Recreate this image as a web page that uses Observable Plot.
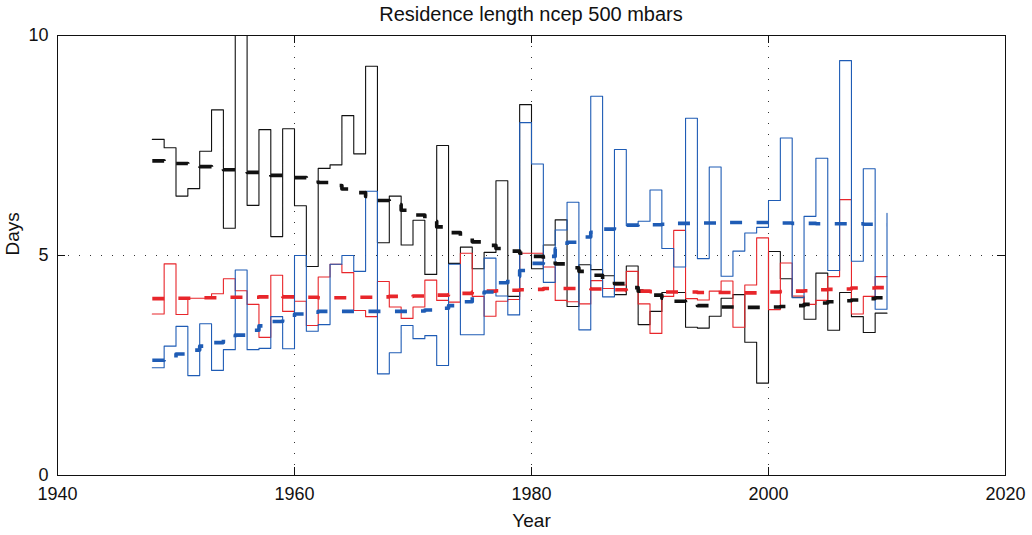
<!DOCTYPE html>
<html>
<head>
<meta charset="utf-8">
<script src="https://cdn.jsdelivr.net/npm/d3@7"></script>
<script src="https://cdn.jsdelivr.net/npm/@observablehq/plot@0.6"></script>
<style>
  html, body { margin: 0; padding: 0; background: #fff; }
  #wrap { position: relative; width: 1032px; height: 535px; }
  #title { position: absolute; top: 0; left: 57px; font: 20px "Liberation Sans", Arial, sans-serif; color: #111; width: 948px; height: 28px; line-height: 28px; text-align: center; z-index: 2; }
</style>
</head>
<body>
<div id="wrap">
<div id="title">Residence length ncep 500 mbars</div>
<div id="chart"></div>
</div>
<script>
const startYear = 1948;
const xTicks = [1940, 1960, 1980, 2000, 2020];
const yTicks = [0, 5, 10];

const blackDays = [7.64,7.45,6.35,6.52,7.37,8.31,5.62,10.9,6.14,7.86,
  5.43,7.88,6.13,4.75,6.98,7.06,8.18,7.31,9.30,5.29,
  6.35,5.24,5.80,4.57,7.50,4.82,5.19,4.70,5.07,6.70,
  4.07,8.43,4.70,5.24,5.81,3.84,4.79,4.68,4.54,4.11,
  4.76,3.43,3.73,4.16,4.16,3.37,3.35,3.62,4.03,4.11,
  3.03,2.10,5.09,4.47,4.05,3.55,4.60,3.30,4.16,3.61,
  3.25,3.69,3.69];
const redDays = [3.67,4.81,3.66,4.03,4.03,4.13,4.47,4.20,3.89,3.14,
  4.55,3.73,3.96,3.41,4.51,4.80,4.61,3.75,3.61,4.41,
  3.83,3.57,3.83,4.44,3.98,3.94,5.05,4.07,3.62,3.96,
  4.00,5.05,5.05,4.74,3.98,3.95,3.90,4.43,4.25,4.33,
  4.64,3.90,3.23,4.07,5.57,4.02,3.99,4.19,4.42,3.37,
  4.33,5.40,3.77,4.83,4.08,3.89,3.98,4.52,6.27,3.67,
  4.07,4.52,4.52];
const blueDays = [2.45,2.94,3.39,2.27,3.45,2.39,2.86,4.67,2.86,2.89,
  3.61,2.88,5.00,3.28,3.43,4.80,5.00,4.64,6.46,2.31,
  2.79,3.41,3.11,3.18,2.50,4.80,3.20,3.20,4.94,4.08,
  3.65,8.02,7.08,4.39,5.58,6.21,3.31,8.62,4.06,7.41,
  5.68,5.78,6.49,5.16,4.74,8.12,4.93,7.01,4.53,5.10,
  5.51,5.64,6.25,7.67,4.04,5.89,7.21,4.66,9.43,4.87,
  6.97,3.78,5.96];

const blackTrend = [7.15,7.12,7.09,7.06,7.02,6.99,6.95,6.92,6.89,6.85,
  6.82,6.80,6.77,6.72,6.66,6.59,6.51,6.43,6.34,6.25,
  6.16,6.03,5.92,5.78,5.65,5.52,5.40,5.31,5.23,5.16,
  5.10,5.05,4.98,4.90,4.81,4.72,4.64,4.55,4.46,4.36,
  4.27,4.19,4.10,4.03,3.96,3.90,3.86,3.84,3.83,3.83,
  3.82,3.82,3.83,3.84,3.86,3.89,3.92,3.95,3.97,3.99,
  4.02,4.04,4.06];
const redTrend = [4.02,4.02,4.03,4.03,4.04,4.04,4.05,4.05,4.05,4.06,
  4.07,4.06,4.05,4.05,4.04,4.04,4.04,4.05,4.05,4.06,
  4.07,4.07,4.08,4.09,4.10,4.11,4.14,4.17,4.19,4.20,
  4.21,4.22,4.23,4.25,4.25,4.25,4.25,4.24,4.23,4.22,
  4.20,4.19,4.18,4.17,4.17,4.17,4.16,4.16,4.16,4.15,
  4.15,4.16,4.17,4.18,4.19,4.20,4.22,4.23,4.24,4.26,
  4.26,4.27,4.27];
const blueTrend = [2.62,2.68,2.76,2.85,2.94,3.02,3.11,3.19,3.30,3.40,
  3.50,3.59,3.67,3.71,3.73,3.73,3.73,3.73,3.73,3.73,
  3.73,3.73,3.74,3.76,3.80,3.86,3.95,4.06,4.17,4.38,
  4.52,4.66,4.82,4.98,5.15,5.30,5.42,5.53,5.60,5.66,
  5.69,5.70,5.70,5.71,5.73,5.73,5.74,5.74,5.75,5.75,
  5.75,5.75,5.75,5.74,5.73,5.73,5.72,5.72,5.72,5.72,
  5.71,5.70,5.70];

const colors = {black: "#111111", red: "#e8262b", blue: "#1f5cb5"};
const toRows = (arr, series) => arr.map((v, i) => ({year: startYear + i, value: v, series}));

const stepRows = [
  ...toRows(blackDays, "black"),
  ...toRows(redDays, "red"),
  ...toRows(blueDays, "blue")
];
const trendRows = [
  ...toRows(blackTrend, "black"),
  ...toRows(redTrend, "red"),
  ...toRows(blueTrend, "blue")
];

const W = 1032, H = 535;
const mL = 57, mR = 27, mT = 35, mB = 60;
const innerW = W - mL - mR;
const innerH = H - mT - mB;
const tickLen = 8;

const chart = Plot.plot({
  width: W,
  height: H,
  marginLeft: mL,
  marginRight: mR,
  marginTop: mT,
  marginBottom: mB,
  style: {fontFamily: "'Liberation Sans', Arial, sans-serif", fontSize: "18px", background: "transparent", color: "#111"},
  x: {domain: [1940, 2020]},
  y: {domain: [0, 10]},
  marks: [
    Plot.gridX(xTicks, {stroke: "#333", strokeOpacity: 1, strokeDasharray: "1,10"}),
    Plot.gridY(yTicks, {stroke: "#333", strokeOpacity: 1, strokeDasharray: "1,10"}),
    ...["black", "red", "blue"].map(s => Plot.line(stepRows.filter(d => d.series === s), {
      x: "year", y: "value", curve: "step-after", stroke: colors[s], strokeWidth: 1.1, clip: true
    })),
    ...["black", "red", "blue"].map(s => Plot.line(trendRows.filter(d => d.series === s), {
      x: "year", y: "value", curve: "step-after", stroke: colors[s], strokeWidth: 3.6,
      strokeDasharray: "12,14.5", strokeLinecap: "butt", clip: true
    })),
    Plot.frame({stroke: "#111", strokeWidth: 1}),
    Plot.tickX(xTicks, {x: d => d, insetTop: innerH - tickLen, stroke: "#111"}),
    Plot.tickX(xTicks, {x: d => d, insetBottom: innerH - tickLen, stroke: "#111"}),
    Plot.tickY(yTicks, {y: d => d, insetRight: innerW - tickLen, stroke: "#111"}),
    Plot.tickY(yTicks, {y: d => d, insetLeft: innerW - tickLen, stroke: "#111"}),
    Plot.axisX(xTicks, {tickSize: 0, tickPadding: 12, tickFormat: d => String(d), label: null, fontSize: 18}),
    Plot.axisY(yTicks, {tickSize: 0, tickPadding: 9, tickFormat: d => String(d), label: null, fontSize: 18}),
    Plot.text(["Year"], {text: d => d, frameAnchor: "bottom", dy: 51, fontSize: 19, fill: "#111"}),
    Plot.text(["Days"], {text: d => d, frameAnchor: "left", dx: -45, rotate: -90, fontSize: 19, fill: "#111"})
  ]
});
document.getElementById("chart").appendChild(chart);
</script>
</body>
</html>
